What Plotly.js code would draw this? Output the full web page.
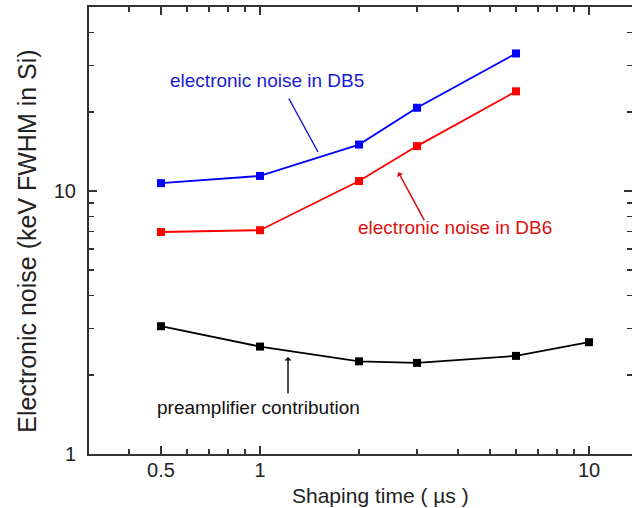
<!DOCTYPE html>
<html>
<head>
<meta charset="utf-8">
<script src="https://cdn.plot.ly/plotly-3.0.1.min.js"></script>
<style>html,body{margin:0;padding:0;background:#fff;overflow:hidden}#chart{width:632px;height:508px}</style>
</head>
<body>
<div id="chart"></div>
<script>
// Data
const shapingTime = [0.5, 1, 2, 3, 6];
const noiseDB5 = [10.7, 11.4, 15.0, 20.7, 33.3];
const noiseDB6 = [6.98, 7.09, 10.9, 14.8, 23.9];
const shapingTimePre = [0.5, 1, 2, 3, 6, 10];
const preampNoise = [3.06, 2.56, 2.25, 2.22, 2.36, 2.66];

// Tick labels
const xTickVals = [0.5, 1, 10];
const xTickText = ['0.5', '1', '10'];
const xMinorVals = [0.4, 0.6, 0.7, 0.8, 0.9, 2, 3, 4, 5, 6, 7, 8, 9];
const yTickVals = [1, 10];
const yTickText = ['1', '10'];
const yMinorVals = [2, 3, 4, 5, 6, 7, 8, 9, 20, 30, 40];

const xTitle = 'Shaping time ( \u00b5s )';
const yTitle = 'Electronic noise (keV FWHM in Si)';
const labelDB5 = 'electronic noise in DB5';
const labelDB6 = 'electronic noise in DB6';
const labelPre = 'preamplifier contribution';

const FONT = '"Liberation Sans", Arial, sans-serif';
const AX = '#333333';
const XRANGE = [-0.5198, 1.1307];
const YRANGE = [0, Math.log10(50)];

function series(x, y, color) {
  return {
    x: x, y: y, type: 'scatter', mode: 'lines+markers',
    line: {color: color, width: 1.8},
    marker: {symbol: 'square', size: 8, color: color},
    showlegend: false, hoverinfo: 'skip'
  };
}

const data = [
  series(shapingTime, noiseDB5, '#0000ff'),
  series(shapingTime, noiseDB6, '#ff0000'),
  series(shapingTimePre, preampNoise, '#000000'),
  // invisible trace that carries the minor-tick axes
  {x: shapingTimePre, y: preampNoise, xaxis: 'x2', yaxis: 'y2', type: 'scatter', mode: 'markers',
   marker: {opacity: 0}, showlegend: false, hoverinfo: 'skip'}
];

const axisCommon = {
  type: 'log', showline: true, linewidth: 2, linecolor: AX, mirror: 'ticks',
  ticks: 'inside', ticklen: 8, tickwidth: 1.6, tickcolor: AX,
  showgrid: false, zeroline: false, tickmode: 'array',
  tickfont: {family: FONT, size: 20, color: '#222'}
};
const minorCommon = {
  type: 'log', showline: false, mirror: 'ticks', ticks: 'inside', ticklen: 5,
  tickwidth: 1.6, tickcolor: AX, showgrid: false, zeroline: false,
  tickmode: 'array', showticklabels: false
};

const layout = {
  width: 632, height: 508,
  margin: {l: 89, r: 0, t: 7, b: 54},
  paper_bgcolor: '#fff', plot_bgcolor: 'rgba(0,0,0,0)',
  font: {family: FONT},
  xaxis: Object.assign({}, axisCommon, {
    range: XRANGE, tickvals: xTickVals, ticktext: xTickText, ticklabelstandoff: -3
  }),
  yaxis: Object.assign({}, axisCommon, {
    range: YRANGE, tickvals: yTickVals, ticktext: yTickText, ticklabelstandoff: 7
  }),
  xaxis2: Object.assign({}, minorCommon, {
    range: XRANGE, tickvals: xMinorVals, overlaying: 'x', anchor: 'y', side: 'bottom'
  }),
  yaxis2: Object.assign({}, minorCommon, {
    range: YRANGE, tickvals: yMinorVals, overlaying: 'y', anchor: 'x', side: 'left'
  }),
  annotations: [
    {x: 0.536, y: -0.092, xref: 'paper', yref: 'paper', text: xTitle, showarrow: false,
     font: {family: FONT, size: 21, color: '#222'}, xanchor: 'center', yanchor: 'middle'},
    {x: -0.114, y: 0.475, xref: 'paper', yref: 'paper', text: yTitle, showarrow: false, textangle: -90,
     font: {family: FONT, size: 25, color: '#222'}, xanchor: 'center', yanchor: 'middle'},
    {x: 0.0213, y: 1.4215, xref: 'x', yref: 'y', text: labelDB5, showarrow: false,
     font: {family: FONT, size: 19, color: '#1a1ad0'}, xanchor: 'center', yanchor: 'middle'},
    {x: 0.1763, y: 1.1479, xref: 'x', yref: 'y', text: '', showarrow: true, arrowhead: 0,
     arrowwidth: 1.5, arrowcolor: '#1a1ad0', ax: -30, ay: -55, standoff: 0},
    {x: 0.5938, y: 0.8607, xref: 'x', yref: 'y', text: labelDB6, showarrow: false,
     font: {family: FONT, size: 19, color: '#e01010'}, xanchor: 'center', yanchor: 'middle'},
    {x: 0.4204, y: 1.0707, xref: 'x', yref: 'y', text: '', showarrow: true, arrowhead: 1, arrowsize: 0.8,
     arrowwidth: 1.5, arrowcolor: '#d01010', ax: 26.7, ay: 49.4, standoff: 0},
    {x: -0.0052, y: 0.1767, xref: 'x', yref: 'y', text: labelPre, showarrow: false,
     font: {family: FONT, size: 19, color: '#111'}, xanchor: 'center', yanchor: 'middle'},
    {x: 0.0851, y: 0.3687, xref: 'x', yref: 'y', text: '', showarrow: true, arrowhead: 1, arrowsize: 0.8,
     arrowwidth: 1.5, arrowcolor: '#111', ax: 0, ay: 38, standoff: 0}
  ]
};

Plotly.newPlot('chart', data, layout, {displayModeBar: false, staticPlot: true});
</script>
</body>
</html>
